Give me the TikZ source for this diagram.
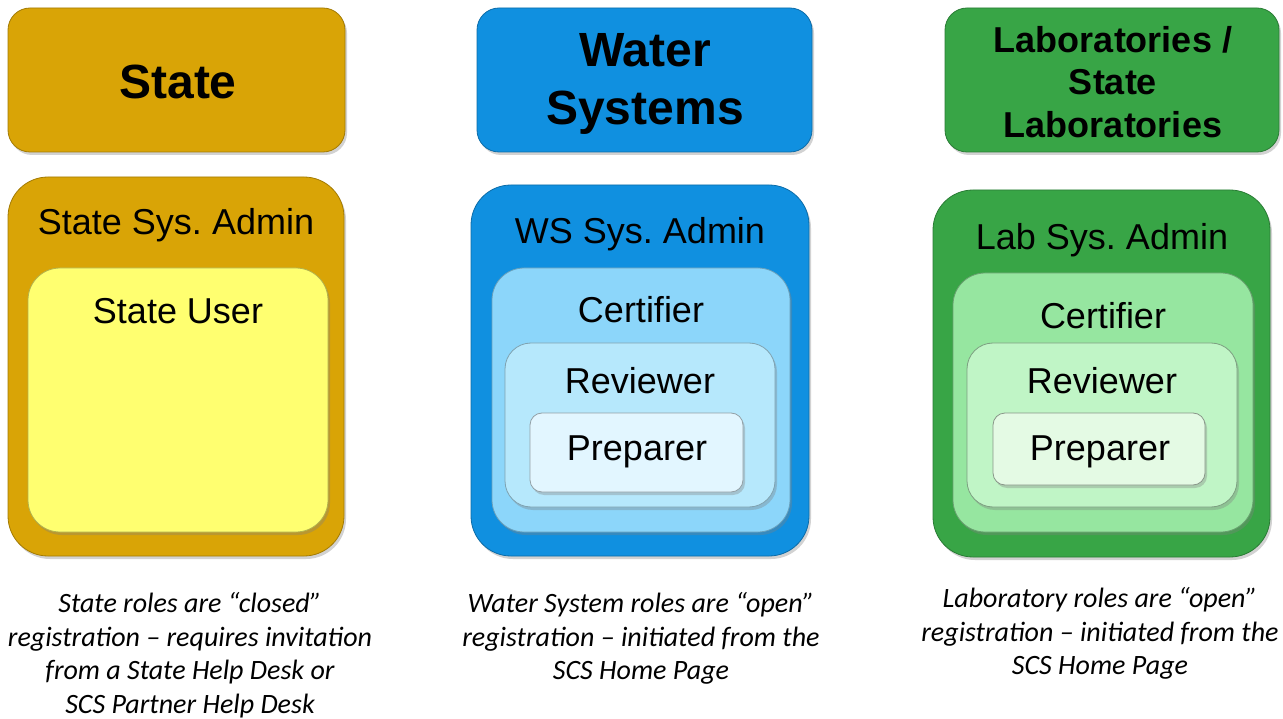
\documentclass[tikz,border=0pt]{standalone}
\usepackage{fontspec}
\setmainfont{Liberation Sans}
\newfontfamily\notefont{Carlito}
\usepackage{xcolor}
\definecolor{ColState}{RGB}{217,164,6}
\definecolor{ColUser}{RGB}{255,255,112}
\definecolor{ColWater}{RGB}{16,144,224}
\definecolor{ColWCert}{RGB}{140,214,250}
\definecolor{ColWRev}{RGB}{182,232,252}
\definecolor{ColWPrep}{RGB}{226,246,255}
\definecolor{ColLab}{RGB}{56,165,70}
\definecolor{ColLCert}{RGB}{150,230,160}
\definecolor{ColLRev}{RGB}{192,245,198}
\definecolor{ColLPrep}{RGB}{228,250,228}
\usepackage{tikz}
\usetikzlibrary{shadows}
\frenchspacing
\tikzstyle{Box}=[rectangle,inner sep=0pt,line width=0.8pt,
drop shadow={opacity=0.35,shadow xshift=2pt,shadow yshift=-3pt}]
\tikzstyle{Head}=[font=\fontsize{48}{58}\selectfont\bfseries,align=center]
\tikzstyle{HeadSmall}=[font=\fontsize{36}{42.5}\selectfont\bfseries,align=center]
\tikzstyle{Role}=[font=\fontsize{36}{42}\selectfont,inner sep=0pt,
text height=26pt,text depth=0pt]
\tikzstyle{Note}=[font=\notefont\itshape\fontsize{28}{33.5}\selectfont,align=center]

\begin{document}
\begin{tikzpicture}[x=1pt,y=-1pt]
        \useasboundingbox[fill=white](0,0)rectangle(1283,719);
        % headers
        \node[Box,fill=ColState,draw=ColState!75!black,rounded corners=22,
        minimum width=337,minimum height=144](hs)at(176.5,80){};
        \node[Box,fill=ColWater,draw=ColWater!75!black,rounded corners=22,
        minimum width=335,minimum height=144](hw)at(644.5,80){};
        \node[Box,fill=ColLab,draw=ColLab!75!black,rounded corners=22,
        minimum width=334,minimum height=144](hl)at(1112,80){};
        \node[Head](ths)at(178,82){State};
        \node[Head](thw)at(645,84){Water\\Systems};
        \node[HeadSmall](thl)at(1113,82){Laboratories /\\State\\Laboratories};
        % state roles
        \node[Box,fill=ColState,draw=ColState!75!black,rounded corners=40,
        minimum width=336,minimum height=379](sa)at(176,366.5){};
        \node[Box,fill=ColUser,draw=ColUser!70!black,rounded corners=32,
        minimum width=300,minimum height=264](su)at(178,400){};
        \node[Role](tsa)at(176,222){State Sys. Admin};
        \node[Role](tsu)at(178,311){State User};
        % water system roles
        \node[Box,fill=ColWater,draw=ColWater!75!black,rounded corners=40,
        minimum width=338,minimum height=371](wa)at(640,370.5){};
        \node[Box,fill=ColWCert,draw=ColWCert!75!black,rounded corners=32,
        minimum width=298,minimum height=264](wc)at(641,400){};
        \node[Box,fill=ColWRev,draw=ColWRev!70!black,rounded corners=26,
        minimum width=270,minimum height=164](wr)at(640,425){};
        \node[Box,fill=ColWPrep,draw=ColWPrep!65!black,rounded corners=12,
        minimum width=213,minimum height=79](wp)at(636.5,452.5){};
        \node[Role](twa)at(640,231){WS Sys. Admin};
        \node[Role](twc)at(641,310){Certifier};
        \node[Role](twr)at(640,381){Reviewer};
        \node[Role](twp)at(637,447){Preparer};
        % laboratory roles
        \node[Box,fill=ColLab,draw=ColLab!75!black,rounded corners=40,
        minimum width=337,minimum height=367](la)at(1101.5,373.5){};
        \node[Box,fill=ColLCert,draw=ColLCert!70!black,rounded corners=32,
        minimum width=300,minimum height=259](lc)at(1103,402.5){};
        \node[Box,fill=ColLRev,draw=ColLRev!65!black,rounded corners=26,
        minimum width=270,minimum height=164](lr)at(1102,425){};
        \node[Box,fill=ColLPrep,draw=ColLPrep!60!black,rounded corners=12,
        minimum width=212,minimum height=72](lp)at(1099,449){};
        \node[Role](tla)at(1102,237){Lab Sys. Admin};
        \node[Role](tlc)at(1103,316){Certifier};
        \node[Role](tlr)at(1102,381){Reviewer};
        \node[Role](tlp)at(1100,447){Preparer};
        % notes
        \node[Note,anchor=north](ns)at(190,589){State roles are “closed”\\
        registration – requires invitation\\from a State Help Desk or\\
        SCS Partner Help Desk};
        \node[Note,anchor=north](nw)at(641,589){Water System roles are “open”\\
        registration – initiated from the\\SCS Home Page};
        \node[Note,anchor=north](nl)at(1100,584){Laboratory roles are “open”\\
        registration – initiated from the\\SCS Home Page};
\end{tikzpicture}
\end{document}
